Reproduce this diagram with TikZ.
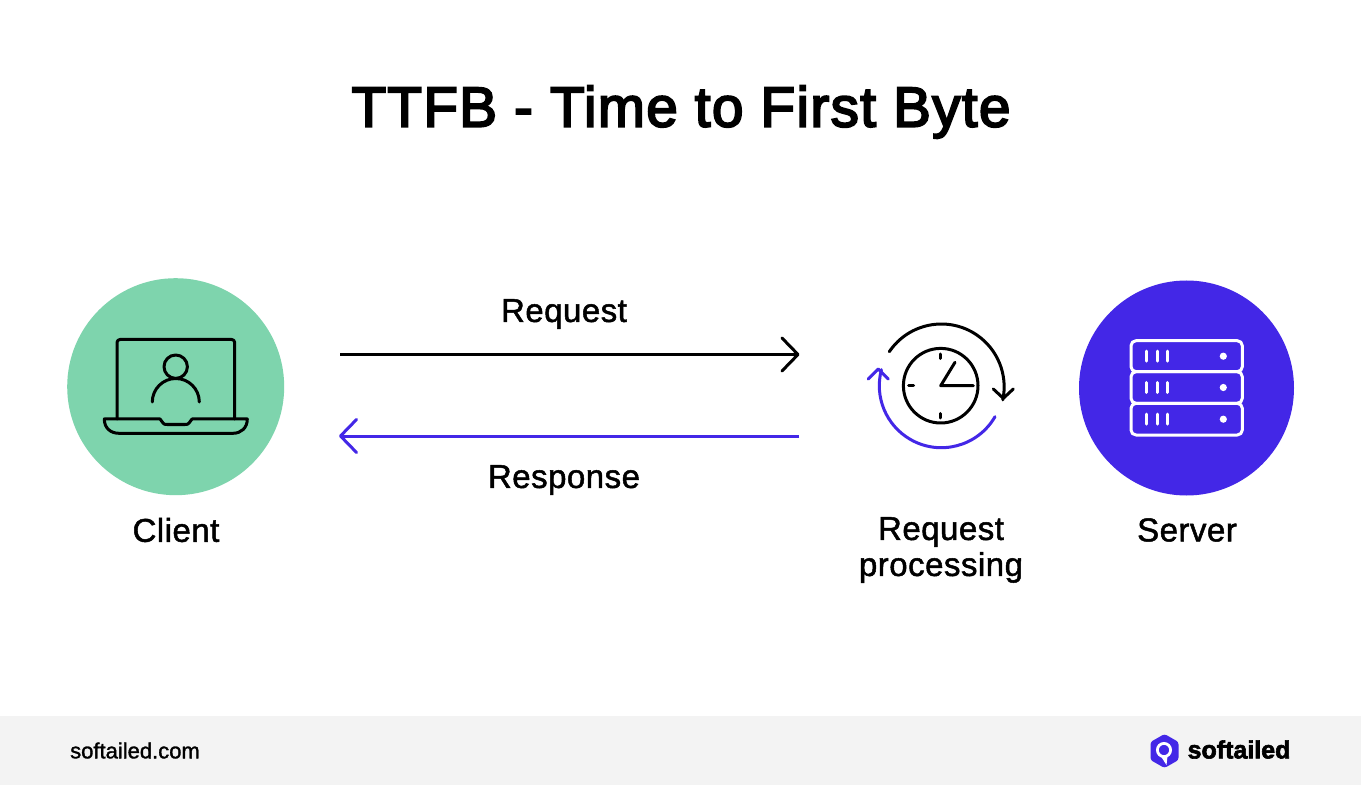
\documentclass[tikz,border=0pt]{standalone}
\usepackage{fontspec}
\setmainfont{Liberation Sans}
\newfontfamily\widefont[LetterSpace=1.5]{Liberation Sans}
\newfontfamily\titlefont[LetterSpace=2.5]{Liberation Sans}
\newcommand\heavier[2]{\special{pdf:code 2 Tr #1 w}#2\special{pdf:code 0 Tr 1 w}}
\usetikzlibrary{arrows.meta}
\definecolor{brandgreen}{HTML}{7ED4AD}
\definecolor{brandblue}{HTML}{4327E7}
\definecolor{footergray}{HTML}{F3F3F3}
\tikzset{
  label text/.style={font=\widefont\fontsize{33}{36}\selectfont,text=black,align=center,inner sep=0pt},
  blob/.style={circle,inner sep=0pt,draw=none},
  flow/.style={line width=3pt,-{Straight Barb[length=16pt,width=33pt,line width=3pt,round]}},
  icon/.style={line width=3pt,line cap=round,line join=round},
}
\begin{document}
\begin{tikzpicture}[x=1pt,y=-1pt]
\useasboundingbox (0,0) rectangle (1361,786);
\fill[white] (0,0) rectangle (1361,786);
\fill[footergray] (0,716) rectangle (1361,785);

\node[inner sep=0pt,font=\titlefont\fontsize{56.5}{66}\selectfont] (title) at (681,112) {\heavier{2}{TTFB - Time to First Byte}};

\node[blob,fill=brandgreen,minimum size=217pt] (client) at (175.7,386.7) {};
\node[blob,fill=brandblue,minimum size=215pt] (server) at (1186.5,388) {};

% laptop
\draw[icon,rounded corners=3pt] (117,419) -- (117,339.5) -- (234.7,339.5) -- (234.7,419);
\draw[icon] (104.3,419) -- (160,419) -- (163,423) .. controls (164,424.3) and (165,424.5) .. (167,424.5) -- (185,424.5) .. controls (187,424.5) and (188,424.3) .. (189,423) -- (192,419) -- (247.3,419)
  .. controls (247.3,428) and (241,433.3) .. (233,433.3) -- (119,433.3) .. controls (110.5,433.3) and (104.3,428) .. (104.3,419) -- cycle;
\draw[icon] (175.7,366.7) circle[radius=11.7];
\draw[icon] (152.3,402) arc[start angle=180,end angle=360,radius=23.5];

% clock
\coordinate (clockc) at (940.7,385.7);
\draw[icon] (clockc) circle[radius=37.3];
\draw[icon] (940.7,354) -- (940.7,358.5);
\draw[icon] (940.7,413.5) -- (940.7,418);
\draw[icon] (908.5,385.7) -- (913.5,385.7);
\draw[icon] (955,362.3) -- (clockc) -- (973.3,385.7);
\draw[icon] (889.3,351.7) arc[start angle=214,end angle=372,radius=62.8];
\draw[icon] (993.3,389) -- (1003.3,398.3) -- (1013.3,389);
\draw[icon,brandblue] (995,416.7) arc[start angle=30,end angle=195,radius=62];
\draw[icon,brandblue] (868.3,379) -- (878.3,369) -- (888.3,379);

% server
\foreach \t/\b in {340.7/371.7,371.7/403.3,403.3/435}{
  \draw[icon,white,rounded corners=5pt] (1131,\t) rectangle (1242.3,\b);
}
\foreach \c in {356.2,387.5,419.2}{
  \foreach \x in {1146.7,1157.3,1167.3}{
    \draw[icon,white] (\x,\c-5) -- (\x,\c+5);
  }
  \fill[white] (1223.3,\c) circle[radius=3.6];
}

% flows
\coordinate (reqstart) at (340,354.5);
\coordinate (reqend) at (799.5,354.5);
\coordinate (resstart) at (799,436);
\coordinate (resend) at (339,436);
\draw[flow,black] (reqstart) -- (reqend);
\draw[flow,brandblue] (resstart) -- (resend);

\node[label text] (request) at (564,314) {\heavier{0.5}{Request}};
\node[label text] (response) at (564,480) {\heavier{0.5}{Response}};
\node[label text] (clientlabel) at (176,530) {\heavier{0.5}{Client}};
\node[label text] (procl) at (941,550) {\heavier{0.5}{Request}\\\heavier{0.5}{processing}};
\node[label text] (serverlabel) at (1187,530) {\heavier{0.5}{Server}};

% footer
\node[inner sep=0pt,font=\fontsize{22}{24}\selectfont] (site) at (135,750.5) {\heavier{0.3}{softailed.com}};
\fill[brandblue,rounded corners=2.5pt] (1164.5,734) -- (1178.5,742) -- (1178.5,760) -- (1164.5,768) -- (1150.5,760) -- (1150.5,742) -- cycle;
\draw[white,line width=2.8pt] (1164,750) circle[radius=6.6];
\fill[white] (1161,756.5) -- (1167.5,756) -- (1166.5,765) -- cycle;
\node[inner sep=0pt,font=\bfseries\fontsize{25}{30}\selectfont] (brand) at (1239,749.5) {\heavier{0.6}{softailed}};
\end{tikzpicture}
\end{document}
